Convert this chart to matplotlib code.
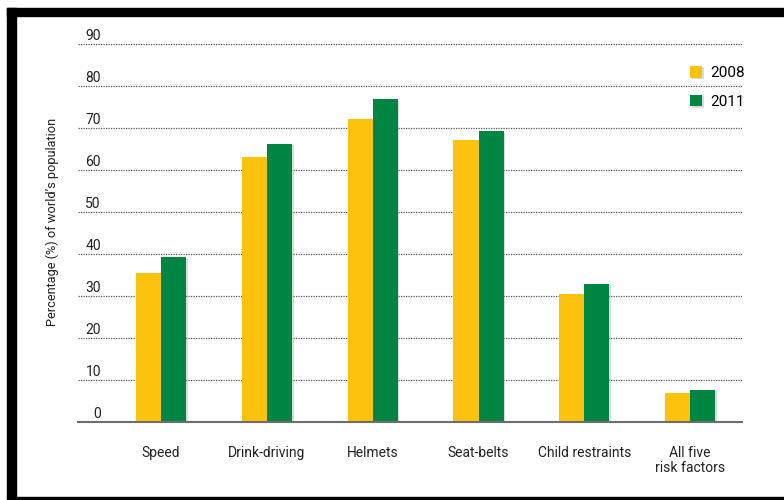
import matplotlib
matplotlib.use("Agg")
import matplotlib.pyplot as plt
import matplotlib.patheffects as pe
import numpy as np
from matplotlib.patches import Rectangle
from matplotlib.transforms import ScaledTranslation

plt.rcParams["font.family"] = ["Roboto", "DejaVu Sans"]

categories = ["Speed", "Drink-driving", "Helmets", "Seat-belts",
              "Child restraints", "All five\nrisk factors"]
share_2008 = [35.5, 63.2, 72.1, 67.2, 30.4, 6.9]
share_2011 = [39.2, 66.3, 77.0, 69.2, 32.9, 7.6]
yticks = [0, 10, 20, 30, 40, 50, 60, 70, 80, 90]

YELLOW = "#fdc20e"
GREEN = "#008542"
TEXT = "#222222"

fig = plt.figure(figsize=(7.84, 5.0), dpi=100)
ax = fig.add_axes([78 / 784, 78 / 500, 664 / 784, 378 / 500])

x = np.arange(len(categories))
w = 0.237
shadow = [pe.SimplePatchShadow(offset=(1.2, -1.0), shadow_rgbFace="#999999", alpha=0.35),
          pe.Normal()]
b1 = ax.bar(x - w / 2, share_2008, w, color=YELLOW, label="2008", zorder=3)
b2 = ax.bar(x + w / 2, share_2011, w, color=GREEN, label="2011", zorder=3)
for bar in list(b1) + list(b2):
    bar.set_path_effects(shadow)

ax.set_xlim(-0.785, 5.49)
ax.set_ylim(0, 90)

# dotted guide lines, solid baseline
for v in yticks[1:]:
    ax.axhline(v, color="#555555", lw=0.9, ls=(0, (1, 1)), zorder=1)
for s in ["top", "right", "left"]:
    ax.spines[s].set_visible(False)
ax.spines["bottom"].set_color("#6d6d6d")
ax.spines["bottom"].set_linewidth(1.5)
ax.spines["bottom"].set_zorder(4)

ax.set_yticks(yticks)
ax.set_yticklabels([str(v) for v in yticks])
ax.tick_params(axis="y", length=0, pad=-16.5, labelsize=10, labelcolor=TEXT)
shift = ScaledTranslation(0, 7 / 72, fig.dpi_scale_trans)
for lab in ax.get_yticklabels():
    lab.set_horizontalalignment("right")
    lab.set_transform(lab.get_transform() + shift)

ax.set_xticks(x)
ax.set_xticklabels(categories, multialignment="center", linespacing=1.1)
ax.tick_params(axis="x", length=0, pad=17, labelsize=10, labelcolor=TEXT)

fig.text(52 / 784, 1 - 222 / 500, "Percentage (%) of world\u2019s population",
         rotation=90, ha="center", va="center", fontsize=9.2, color=TEXT)

ax.legend(loc="upper left", bbox_to_anchor=(0.922, 0.942), frameon=False,
          fontsize=11, handlelength=0.8, handleheight=0.8,
          handletextpad=0.5, labelspacing=0.95, borderpad=0, borderaxespad=0)

# black frame around the figure
frame = dict(color="black", transform=None, zorder=10)
fig.patches.append(Rectangle((7, 500 - 16), 777, 8, **frame))
fig.patches.append(Rectangle((7, 1), 9, 491, **frame))
fig.patches.append(Rectangle((7, 1), 777, 2, **frame))

fig.savefig("out.png", dpi=100)
